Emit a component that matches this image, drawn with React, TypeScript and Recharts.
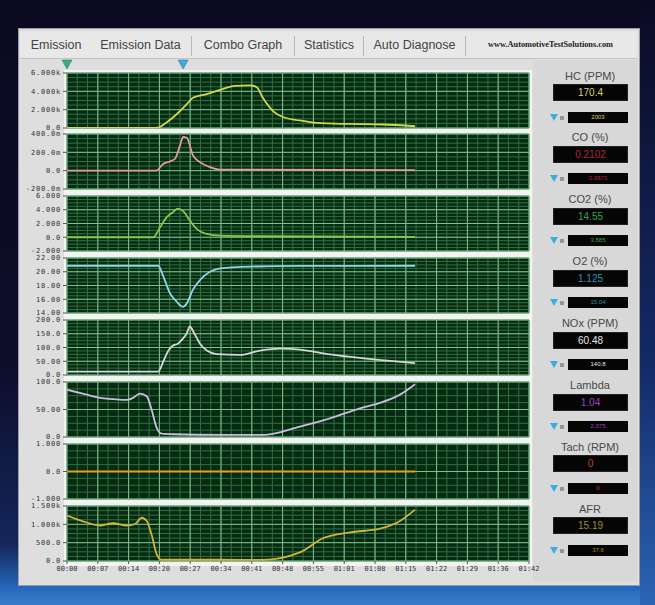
import React from 'react';
import { LineChart, Line, XAxis, YAxis, CartesianGrid, ReferenceDot } from 'recharts';

// ---------- data ----------
const TIME_LABELS = ['00:00','00:07','00:14','00:20','00:27','00:34','00:41','00:48','00:55','01:01','01:08','01:15','01:22','01:29','01:36','01:42'];

const HC_DATA = [[0,0],[2.9,0],[3.24,630],[3.56,1500],[3.89,2600],[4.09,3300],[4.54,3700],[4.97,4150],[5.45,4600],[5.94,4650],[6.16,4450],[6.36,3300],[6.69,1850],[7.01,1200],[7.56,820],[8.11,560],[9.19,440],[10.26,380],[11.3,190]];
const CO_DATA = [[0,0],[2.9,0],[3.12,0.074],[3.34,0.1],[3.51,0.13],[3.67,0.276],[3.77,0.369],[3.89,0.359],[4.09,0.166],[4.32,0.093],[4.64,0.038],[4.97,0.011],[11.3,0.005]];
const CO2_DATA = [[0,0],[2.8,0],[3.02,1.46],[3.24,2.92],[3.44,3.65],[3.6,4.15],[3.77,3.8],[3.99,2.44],[4.21,1.23],[4.54,0.5],[4.97,0.25],[6.27,0.15],[11.3,0.05]];
const O2_DATA = [[0,20.87],[2.96,20.87],[3.13,19.3],[3.34,16.9],[3.56,15.65],[3.77,14.9],[3.89,15.4],[4.09,17.4],[4.32,18.8],[4.64,20.0],[4.97,20.5],[5.94,20.75],[7.56,20.85],[11.3,20.87]];
const NOX_DATA = [[0,12],[2.96,12],[3.13,50],[3.29,88],[3.44,107],[3.6,114],[3.77,133],[3.89,152],[3.99,177],[4.1,158],[4.32,114],[4.54,89],[4.86,76],[5.62,73],[6.27,89],[6.92,96],[7.56,92],[8.54,75],[9.51,62],[10.49,51],[11.3,43]];
const LAMBDA_DATA = [[0,86],[0.64,77],[1.07,71],[1.49,69],[1.94,67.5],[2.14,71],[2.37,79],[2.59,74],[2.75,49],[2.91,17],[3.07,6],[3.44,5],[4.97,4],[6.43,4],[7.56,19],[8.54,34],[9.51,52],[10.16,62],[10.81,77],[11.3,96]];
const TACH_DATA = [[0,0],[11.3,0]];
const AFR_DATA = [[0,1240],[0.64,1050],[1.07,965],[1.49,1030],[1.94,965],[2.21,1010],[2.43,1180],[2.59,1090],[2.75,706],[2.91,190],[3.07,34],[4.97,34],[6.36,30],[7.56,233],[8.31,620],[9.19,780],[10.16,880],[10.81,1090],[11.3,1400]];

const HC_TICKS = [0, 2000, 4000, 6000];
const CO_TICKS = [-0.2, 0, 0.2, 0.4];
const CO2_TICKS = [-2, 0, 2, 4, 6];
const O2_TICKS = [14, 16, 18, 20, 22];
const NOX_TICKS = [0, 50, 100, 150, 200];
const LAMBDA_TICKS = [0, 50, 100];
const TACH_TICKS = [-1, 0, 1];
const AFR_TICKS = [0, 500, 1000, 1500];

const CURSOR_TIMES = [0, 3.77];

const TITLES = ['HC (PPM)', 'CO (%)', 'CO2 (%)', 'O2 (%)', 'NOx (PPM)', 'Lambda', 'Tach (RPM)', 'AFR'];
const CURRENT_VALUES = ['170.4', '0.2102', '14.55', '1.125', '60.48', '1.04', '0', '15.19'];
const CURSOR_VALUES = ['2003', '0.3873', '3.885', '15.04', '140.8', '2.075', '0', '37.6'];

const TABS = ['Emission', 'Emission Data', 'Combo Graph', 'Statistics', 'Auto Diagnose'];

// ---------- styling / layout ----------
const PANELS = [
  { data: HC_DATA, ticks: HC_TICKS, color: '#d6d64a', valueColor: '#d8d860' },
  { data: CO_DATA, ticks: CO_TICKS, color: '#e69a9a', valueColor: '#b3243f' },
  { data: CO2_DATA, ticks: CO2_TICKS, color: '#86c94a', valueColor: '#2fa653' },
  { data: O2_DATA, ticks: O2_TICKS, color: '#8fd6e6', valueColor: '#2f93b6' },
  { data: NOX_DATA, ticks: NOX_TICKS, color: '#d6d6d6', valueColor: '#e6e6e6' },
  { data: LAMBDA_DATA, ticks: LAMBDA_TICKS, color: '#c9bde0', valueColor: '#a341c6' },
  { data: TACH_DATA, ticks: TACH_TICKS, color: '#e0a024', valueColor: '#c4441a' },
  { data: AFR_DATA, ticks: AFR_TICKS, color: '#d4b436', valueColor: '#a88a26' },
];

const PLOT_TOP0 = 72.5;
const PITCH = 61.9;
const PLOT_H = 55;
const CHART_LEFT = 15;
const YAXIS_W = 52;
const PLOT_W = 462;
const RIGHT_M = 12;
const X_DOMAIN = [0, 15];
const MAJOR_X = TIME_LABELS.map((_, i) => i);
const MINOR_X = Array.from({ length: 46 }, (_, i) => i / 3);

const TICK_FONT = 'DejaVu Sans Mono, monospace';
const UI_FONT = 'Liberation Sans, Arial, sans-serif';

const eng = (v: number) => {
  if (v === 0) return '0.0';
  const a = Math.abs(v);
  let n = v;
  let s = '';
  if (a >= 1000) { n = v / 1000; s = 'k'; }
  else if (a < 1) { n = v * 1000; s = 'm'; }
  return n.toPrecision(4) + s;
};

const minorTicks = (ticks: number[]) => {
  const out: number[] = [];
  for (let i = 0; i < ticks.length - 1; i++) {
    const step = (ticks[i + 1] - ticks[i]) / 4;
    for (let k = 0; k < 4; k++) out.push(ticks[i] + step * k);
  }
  out.push(ticks[ticks.length - 1]);
  return out;
};

// grid line positions through the axes' own scales (fallback: linear map over the plot offset)
const xGen = (values: number[]) => (props: any) => {
  const { xAxis, offset } = props || {};
  if (xAxis && typeof xAxis.scale === 'function') return values.map((v) => xAxis.scale(v));
  return values.map((v) => offset.left + ((v - X_DOMAIN[0]) / (X_DOMAIN[1] - X_DOMAIN[0])) * offset.width);
};
const yGen = (values: number[], domain: number[]) => (props: any) => {
  const { yAxis, offset } = props || {};
  if (yAxis && typeof yAxis.scale === 'function') return values.map((v) => yAxis.scale(v));
  return values.map((v) => offset.top + ((domain[1] - v) / (domain[1] - domain[0])) * offset.height);
};

const CursorMarker = (color: string) => (props: any) => {
  const { cx, cy } = props;
  if (cx == null || cy == null) return null;
  return <path d={`M${cx - 5},${cy - 13} L${cx + 5},${cy - 13} L${cx},${cy - 4} Z`} fill={color} stroke="#2a6a80" strokeWidth={0.5} />;
};

function Panel({ idx }: { idx: number }) {
  const cfg = PANELS[idx];
  const last = idx === PANELS.length - 1;
  const first = idx === 0;
  const mt = first ? 16 : 5;
  const mb = 4;
  const xh = last ? 16 : 0;
  const top = PLOT_TOP0 + idx * PITCH;
  const h = PLOT_H + mt + mb + xh;
  const data = cfg.data.map(([t, v]) => ({ t, v }));
  const domain = [cfg.ticks[0], cfg.ticks[cfg.ticks.length - 1]];
  const minorY = minorTicks(cfg.ticks);
  return (
    <div style={{ position: 'absolute', left: CHART_LEFT, top: top - mt }}>
      <LineChart width={YAXIS_W + PLOT_W + RIGHT_M} height={h} data={data} margin={{ top: mt, right: RIGHT_M, bottom: mb, left: 0 }}>
        <XAxis
          xAxisId="major"
          dataKey="t"
          type="number"
          domain={X_DOMAIN}
          ticks={MAJOR_X}
          interval={0}
          hide={!last}
          height={xh}
          tickFormatter={(i: number) => TIME_LABELS[i] ?? ''}
          tick={{ fontSize: 7, fill: '#333', fontFamily: TICK_FONT }}
          tickLine={{ stroke: '#555' }}
          tickSize={3}
          axisLine={false}
          allowDataOverflow
        />
        <YAxis
          yAxisId="major"
          type="number"
          domain={domain}
          ticks={cfg.ticks}
          interval={0}
          width={YAXIS_W}
          tickFormatter={eng}
          tick={{ fontSize: 7, fill: '#333', fontFamily: TICK_FONT, letterSpacing: 0.8 }}
          tickLine={{ stroke: '#555' }}
          tickSize={4}
          axisLine={false}
          allowDataOverflow
        />
        <CartesianGrid
          xAxisId="major"
          yAxisId="major"
          stroke="#2f7040"
          strokeWidth={1}
          fill="#072a12"
          fillOpacity={1}
          verticalCoordinatesGenerator={xGen(MINOR_X)}
          horizontalCoordinatesGenerator={yGen(minorY, domain)}
        />
        <CartesianGrid
          xAxisId="major"
          yAxisId="major"
          stroke="#7fc08c"
          strokeWidth={1}
          verticalCoordinatesGenerator={xGen(MAJOR_X)}
          horizontalCoordinatesGenerator={yGen(cfg.ticks, domain)}
        />
        <Line
          xAxisId="major"
          yAxisId="major"
          dataKey="v"
          type="monotone"
          stroke={cfg.color}
          strokeWidth={1.8}
          dot={false}
          isAnimationActive={false}
        />
        {first && CURSOR_TIMES.map((t, i) => (
          <ReferenceDot
            key={i}
            xAxisId="major"
            yAxisId="major"
            x={t}
            y={domain[1]}
            ifOverflow="visible"
            shape={CursorMarker(i === 0 ? '#3fae6e' : '#3aaee0')}
          />
        ))}
      </LineChart>
    </div>
  );
}

function SidePanel({ idx }: { idx: number }) {
  const top = PLOT_TOP0 + idx * PITCH;
  const color = PANELS[idx].valueColor;
  return (
    <>
      <div style={{ position: 'absolute', left: 540, width: 100, top: top - 4, textAlign: 'center', fontFamily: UI_FONT, fontSize: 11, color: '#474747', lineHeight: '14px' }}>
        {TITLES[idx]}
      </div>
      <div style={{ position: 'absolute', left: 553, width: 75, top: top + 11.5, height: 17, background: '#050505', border: '1px solid #222', boxSizing: 'border-box', textAlign: 'center', fontFamily: UI_FONT, fontSize: 10, lineHeight: '15px', color }}>
        {CURRENT_VALUES[idx]}
      </div>
      <svg style={{ position: 'absolute', left: 549, top: top + 40 }} width={18} height={10}>
        <path d="M1,1 L9,1 L5,8 Z" fill="#3aaee0" />
        <path d="M11,4 L15,4 M11,6 L15,6" stroke="#333" strokeWidth={0.8} />
      </svg>
      <div style={{ position: 'absolute', left: 568, width: 60, top: top + 39, height: 11, background: '#050505', textAlign: 'center', fontFamily: UI_FONT, fontSize: 6, lineHeight: '11px', color }}>
        {CURSOR_VALUES[idx]}
      </div>
    </>
  );
}

export default function App() {
  const tabEdges = [22, 90, 192, 295, 364, 466];
  return (
    <div style={{ position: 'absolute', left: 0, top: 0, width: 655, height: 605, overflow: 'hidden', background: 'linear-gradient(to bottom, #0b0a20 0%, #0d0d2a 60%, #14265a 90%, #2466b8 97%, #3a7ccc 100%)' }}>
      <div style={{ position: 'absolute', left: 640, top: 0, width: 15, height: 605, background: 'linear-gradient(to bottom, #0b0a22 0%, #142a66 60%, #2a64b4 100%)' }} />
      {/* main panel */}
      <div style={{ position: 'absolute', left: 18, top: 28, width: 622, height: 558, background: '#dedede', border: '1px solid #9a9aa8', boxSizing: 'border-box' }} />
      {/* tab bar */}
      <div style={{ position: 'absolute', left: 20, top: 31, width: 617, height: 27, background: '#e8e8e8', borderBottom: '1px solid #c4c4c4' }} />
      {TABS.map((t, i) => (
        <div key={t} style={{ position: 'absolute', left: tabEdges[i], width: tabEdges[i + 1] - tabEdges[i], top: 36, height: 20, textAlign: 'center', fontFamily: UI_FONT, fontSize: 12.5, color: '#444', lineHeight: '18px', borderRight: i > 0 ? '1px solid #b8b8b8' : 'none', boxSizing: 'border-box' }}>
          {t}
        </div>
      ))}
      <div style={{ position: 'absolute', left: 468, width: 165, top: 36, height: 18, textAlign: 'center', fontFamily: 'Liberation Serif, serif', fontWeight: 'bold', fontSize: 8.3, color: '#222', lineHeight: '18px' }}>
        www.AutomotiveTestSolutions.com
      </div>
      {/* plot column band */}
      <div style={{ position: 'absolute', left: 64, top: 70, width: 468, height: 496, background: '#f3f3f3' }} />
      {/* right panel */}
      <div style={{ position: 'absolute', left: 533, top: 60, width: 104, height: 522, background: '#d8d8d8' }} />
      {PANELS.map((_, i) => <Panel key={i} idx={i} />)}
      {PANELS.map((_, i) => <SidePanel key={'s' + i} idx={i} />)}
    </div>
  );
}
